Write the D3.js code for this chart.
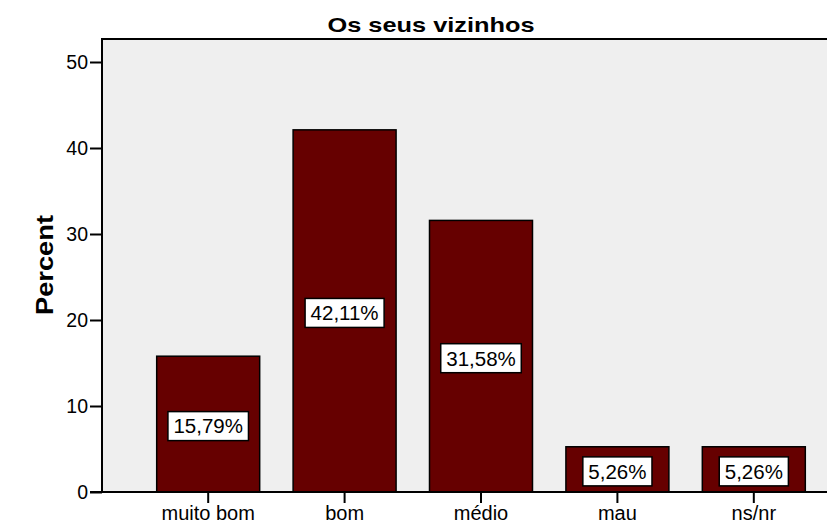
<!DOCTYPE html>
<html>
<head>
<meta charset="utf-8">
<script src="https://cdn.jsdelivr.net/npm/d3@7"></script>
<style>
  html, body { margin: 0; padding: 0; background: #ffffff; }
  svg { display: block; font-family: Arial, "Liberation Sans", Helvetica, sans-serif; }
</style>
</head>
<body>
<svg id="chart" width="827" height="525"></svg>
<script>
// Survey answers: "Os seus vizinhos"
const categories = ["muito bom", "bom", "médio", "mau", "ns/nr"];
const percents = [15.79, 42.11, 31.58, 5.26, 5.26];
const yTicks = [0, 10, 20, 30, 40, 50];
const chartTitle = "Os seus vizinhos";
const yTitle = "Percent";

const svg = d3.select("#chart");

// Plot frame (the right side runs past the edge of the canvas)
const frame = { left: 102, right: 860, top: 39, bottom: 492 };

const y = d3.scaleLinear().domain([0, 50]).range([frame.bottom, 62]);
const x = d3.scaleBand()
  .domain(categories)
  .range([frame.left, frame.right])
  .paddingInner(0.245)
  .paddingOuter(0.401);

// Background panel
svg.append("rect")
  .attr("x", frame.left).attr("y", frame.top)
  .attr("width", frame.right - frame.left)
  .attr("height", frame.bottom - frame.top)
  .attr("fill", "#efefef");

// Bars
svg.append("g").selectAll("rect")
  .data(percents)
  .join("rect")
  .attr("x", (d, i) => x(categories[i]))
  .attr("y", d => y(d))
  .attr("width", x.bandwidth())
  .attr("height", d => y(0) - y(d))
  .attr("fill", "#660000")
  .attr("stroke", "#000")
  .attr("stroke-width", 1.5);

// Value labels in white boxes at mid-bar
const fmt = d => d.toFixed(2).replace(".", ",") + "%";
const labels = svg.append("g").selectAll("g")
  .data(percents)
  .join("g")
  .attr("transform", (d, i) =>
    `translate(${x(categories[i]) + x.bandwidth() / 2},${(y(d) + y(0)) / 2 + 2})`);

labels.append("text")
  .attr("text-anchor", "middle")
  .attr("dy", "0.36em")
  .attr("font-size", 20.5)
  .attr("fill", "#000")
  .text(fmt)
  .each(function () {
    const b = this.getBBox();
    d3.select(this.parentNode).insert("rect", "text")
      .attr("x", b.x - 5.5).attr("y", -14.5)
      .attr("width", b.width + 11).attr("height", 29)
      .attr("fill", "#fff")
      .attr("stroke", "#000")
      .attr("stroke-width", 1.5);
  });

// Frame lines (top and left)
svg.append("path")
  .attr("d", `M${frame.left},${frame.bottom}V${frame.top}H${frame.right}`)
  .attr("fill", "none")
  .attr("stroke", "#000")
  .attr("stroke-width", 2);

// Y axis
const yAxis = svg.append("g")
  .attr("transform", `translate(${frame.left},0)`)
  .call(d3.axisLeft(y).tickValues(yTicks).tickSize(12).tickPadding(2));
yAxis.select(".domain").remove();
yAxis.selectAll(".tick line").attr("stroke", "#000").attr("stroke-width", 2);
yAxis.selectAll(".tick text")
  .attr("font-size", 19.5)
  .attr("fill", "#000")
  .attr("font-family", "Arial, 'Liberation Sans', sans-serif");

// X axis
const xAxis = svg.append("g")
  .attr("transform", `translate(0,${frame.bottom})`)
  .call(d3.axisBottom(x).tickSize(11).tickPadding(3));
xAxis.select(".domain")
  .attr("d", `M${frame.left - 12},0H${frame.right}`)
  .attr("stroke", "#000").attr("stroke-width", 2);
xAxis.selectAll(".tick line").attr("stroke", "#000").attr("stroke-width", 2);
xAxis.selectAll(".tick text")
  .attr("font-size", 20)
  .attr("fill", "#000")
  .attr("font-family", "Arial, 'Liberation Sans', sans-serif");

// Chart title
svg.append("text")
  .attr("x", 431).attr("y", 32)
  .attr("text-anchor", "middle")
  .attr("font-size", 21)
  .attr("font-weight", "bold")
  .attr("textLength", 207)
  .attr("lengthAdjust", "spacingAndGlyphs")
  .text(chartTitle);

// Y axis title
svg.append("text")
  .attr("transform", `translate(53,265) rotate(-90)`)
  .attr("text-anchor", "middle")
  .attr("font-size", 24)
  .attr("font-weight", "bold")
  .attr("textLength", 100)
  .attr("lengthAdjust", "spacingAndGlyphs")
  .text(yTitle);
</script>
</body>
</html>
